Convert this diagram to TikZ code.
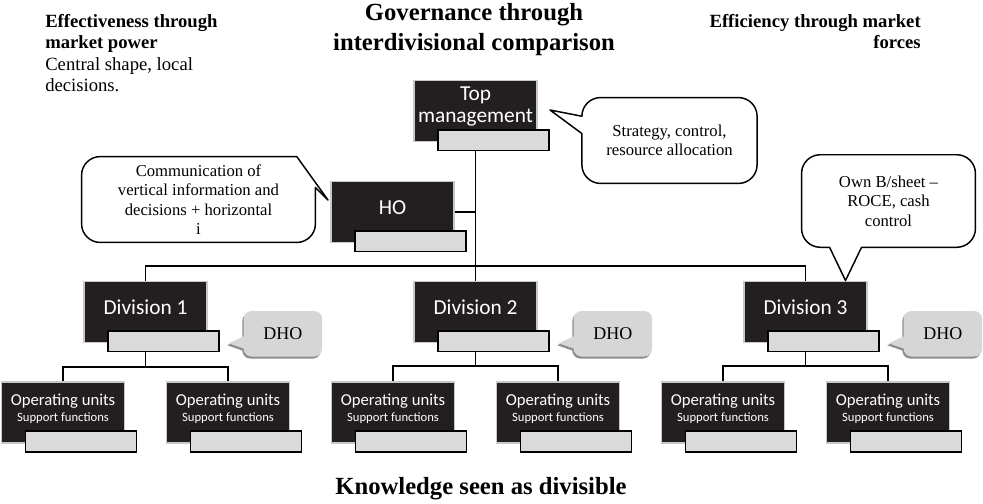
\documentclass[tikz,border=0pt]{standalone}
\usepackage{fontspec}
\setmainfont{Liberation Serif}
\newfontfamily\boxfont{Carlito}
\usetikzlibrary{positioning,calc,shadows,backgrounds}
\definecolor{boxblack}{RGB}{35,31,32}
\definecolor{boxgray}{RGB}{218,218,218}
\definecolor{dhogray}{RGB}{214,214,214}
\definecolor{rimgray}{RGB}{200,200,200}

\begin{document}
\begin{tikzpicture}[x=0.75pt, y=-0.75pt,
    blackbox/.style={draw=rimgray, line width=1.2pt, fill=boxblack,
                     minimum width=92pt, minimum height=46pt, inner sep=0},
    boxlabel/.style={text=white, align=center, yshift=3.5pt,
                     font=\boxfont\fontsize{16}{17}\selectfont},
    unitlabel/.style={text=white, align=center, yshift=2.5pt,
                      font=\boxfont\fontsize{12.5}{12}\selectfont},
    graybox/.style={draw=black, line width=1.2pt, fill=boxgray, anchor=north west,
                    minimum width=83pt, minimum height=15.5pt, inner sep=0},
    link/.style={line width=1.1pt},
    bubble/.style={align=center, inner sep=0, font=\fontsize{12.5}{14.5}\selectfont},
    bubbleline/.style={line width=1.1pt, line join=round},
    dho/.style={minimum width=58.5pt, minimum height=33.75pt, inner sep=0,
                font=\fontsize{13.5}{16}\selectfont},
    dhofill/.style={fill=dhogray, drop shadow={shadow xshift=-1pt, shadow yshift=-1.5pt,
                    fill=black!45, opacity=1}},
    heading/.style={inner sep=0, font=\fontsize{14}{16}\selectfont}]

    \useasboundingbox (0,0) rectangle (983,504);

    % headings
    \node[heading, anchor=north, align=center, font=\bfseries\fontsize{18.5}{22.5}\selectfont]
        (gov) at (474,3) {Governance through\\interdivisional comparison};
    \node[heading, anchor=north west, align=left] (eff) at (45,14)
        {\textbf{Effectiveness through}\\\textbf{market power}\\Central shape, local\\decisions.};
    \node[heading, anchor=north east, align=right] (effi) at (921,14)
        {\textbf{Efficiency through market}\\\textbf{forces}};
    \node[heading, font=\bfseries\fontsize{18.5}{22}\selectfont] (know) at (481,489)
        {Knowledge seen as divisible};

    % top management and head office
    \node[blackbox, label={[boxlabel]center:{Top\\management}}] (tm) at (475.5,111) {};
    \node[graybox] (tmg) at ([shift={(24,-13.5)}]tm.south west) {};
    \node[blackbox, label={[boxlabel]center:HO}] (ho) at (392.5,212) {};
    \node[graybox] (hog) at ([shift={(24,-13.5)}]ho.south west) {};

    % divisions
    \node[blackbox, label={[boxlabel]center:Division 1}] (d1) at (145.5,312) {};
    \node[graybox] (d1g) at ([shift={(24,-13.5)}]d1.south west) {};
    \node[blackbox, label={[boxlabel]center:Division 2}] (d2) at (475.5,312) {};
    \node[graybox] (d2g) at ([shift={(24,-13.5)}]d2.south west) {};
    \node[blackbox, label={[boxlabel]center:Division 3}] (d3) at (805.5,312) {};
    \node[graybox] (d3g) at ([shift={(24,-13.5)}]d3.south west) {};

    % operating units
    \node[blackbox, label={[unitlabel]center:{Operating units\\\fontsize{9.5}{11}\selectfont Support functions}}] (u11) at (63,412.5) {};
    \node[graybox] (u11g) at ([shift={(24,-13.5)}]u11.south west) {};
    \node[blackbox, label={[unitlabel]center:{Operating units\\\fontsize{9.5}{11}\selectfont Support functions}}] (u12) at (228,412.5) {};
    \node[graybox] (u12g) at ([shift={(24,-13.5)}]u12.south west) {};
    \node[blackbox, label={[unitlabel]center:{Operating units\\\fontsize{9.5}{11}\selectfont Support functions}}] (u21) at (393,412.5) {};
    \node[graybox] (u21g) at ([shift={(24,-13.5)}]u21.south west) {};
    \node[blackbox, label={[unitlabel]center:{Operating units\\\fontsize{9.5}{11}\selectfont Support functions}}] (u22) at (558,412.5) {};
    \node[graybox] (u22g) at ([shift={(24,-13.5)}]u22.south west) {};
    \node[blackbox, label={[unitlabel]center:{Operating units\\\fontsize{9.5}{11}\selectfont Support functions}}] (u31) at (723,412.5) {};
    \node[graybox] (u31g) at ([shift={(24,-13.5)}]u31.south west) {};
    \node[blackbox, label={[unitlabel]center:{Operating units\\\fontsize{9.5}{11}\selectfont Support functions}}] (u32) at (888,412.5) {};
    \node[graybox] (u32g) at ([shift={(24,-13.5)}]u32.south west) {};

    % connectors
    \coordinate (bus) at (475.5,266);
    \coordinate (j1) at (145.5,367);
    \coordinate (j2) at (475.5,366);
    \coordinate (j3) at (805.5,366);
    \draw[link] (tm.south |- tmg.south) -- (d2.north);
    \draw[link] (ho.east) -- (ho.east -| tm.south);
    \draw[link] (d1.north) |- (bus) -| (d3.north);
    \draw[link] (d1.south |- d1g.south) -- (j1);
    \draw[link] (u11.north) |- (j1) -| (u12.north);
    \draw[link] (d2.south |- d2g.south) -- (j2);
    \draw[link] (u21.north) |- (j2) -| (u22.north);
    \draw[link] (d3.south |- d3g.south) -- (j3);
    \draw[link] (u31.north) |- (j3) -| (u32.north);

    % speech bubbles
    \node[bubble, minimum width=131pt, minimum height=64pt] (strat) at (669.5,140.5)
        {Strategy, control,\\resource allocation};
    \coordinate (strattip) at (550,110);
    \draw[bubbleline] (strattip) -- ([yshift=-27pt]strat.north west)
        -- ([yshift=14pt]strat.south west) arc[start angle=180, end angle=270, radius=14pt]
        -- ([xshift=-14pt]strat.south east) arc[start angle=270, end angle=360, radius=14pt]
        -- ([yshift=-14pt]strat.north east) arc[start angle=0, end angle=90, radius=14pt]
        -- ([xshift=14pt]strat.north west) arc[start angle=90, end angle=180, radius=14pt]
        -- cycle;

    \node[bubble, minimum width=175pt, minimum height=64pt] (comm) at (198.5,199.5)
        {Communication of\\vertical information and\\decisions + horizontal\\i};
    \coordinate (commtip) at (328,200);
    \draw[bubbleline] (commtip) -- ([yshift=9pt]comm.east)
        -- ([yshift=14pt]comm.south east) arc[start angle=0, end angle=-90, radius=14pt]
        -- ([xshift=14pt]comm.south west) arc[start angle=270, end angle=180, radius=14pt]
        -- ([yshift=-14pt]comm.north west) arc[start angle=180, end angle=90, radius=14pt]
        -- ([xshift=-14pt]comm.north east) -- cycle;

    \node[bubble, minimum width=130pt, minimum height=69pt] (bsheet) at (888.5,201)
        {Own B/sheet --\\ROCE, cash\\control};
    \coordinate (bsheettip) at ([xshift=30pt]d3.north);
    \draw[bubbleline] (bsheettip) -- ([xshift=45pt]bsheet.south west)
        -- ([xshift=-14pt]bsheet.south east) arc[start angle=-90, end angle=0, radius=14pt]
        -- ([yshift=-14pt]bsheet.north east) arc[start angle=0, end angle=90, radius=14pt]
        -- ([xshift=14pt]bsheet.north west) arc[start angle=90, end angle=180, radius=14pt]
        -- ([yshift=14pt]bsheet.south west) arc[start angle=180, end angle=270, radius=14pt]
        -- ([xshift=21pt]bsheet.south west) -- cycle;

    % divisional head offices
    \node[dho, right=18pt of d1g, yshift=5.5pt] (dho1) {DHO};
    \node[dho, right=18pt of d2g, yshift=5.5pt] (dho2) {DHO};
    \node[dho, right=18pt of d3g, yshift=5.5pt] (dho3) {DHO};
    \begin{scope}[on background layer]
    \fill[dhofill] ([shift={(-15,9.5)}]dho1.west) -- ([yshift=-2pt]dho1.west)
        -- ([yshift=-6pt]dho1.north west) arc[start angle=180, end angle=90, radius=6pt]
        -- ([xshift=-6pt]dho1.north east) arc[start angle=90, end angle=0, radius=6pt]
        -- ([yshift=6pt]dho1.south east) arc[start angle=0, end angle=-90, radius=6pt]
        -- ([xshift=6pt]dho1.south west) arc[start angle=270, end angle=180, radius=6pt]
        -- cycle;
    \fill[dhofill] ([shift={(-15,9.5)}]dho2.west) -- ([yshift=-2pt]dho2.west)
        -- ([yshift=-6pt]dho2.north west) arc[start angle=180, end angle=90, radius=6pt]
        -- ([xshift=-6pt]dho2.north east) arc[start angle=90, end angle=0, radius=6pt]
        -- ([yshift=6pt]dho2.south east) arc[start angle=0, end angle=-90, radius=6pt]
        -- ([xshift=6pt]dho2.south west) arc[start angle=270, end angle=180, radius=6pt]
        -- cycle;
    \fill[dhofill] ([shift={(-15,9.5)}]dho3.west) -- ([yshift=-2pt]dho3.west)
        -- ([yshift=-6pt]dho3.north west) arc[start angle=180, end angle=90, radius=6pt]
        -- ([xshift=-6pt]dho3.north east) arc[start angle=90, end angle=0, radius=6pt]
        -- ([yshift=6pt]dho3.south east) arc[start angle=0, end angle=-90, radius=6pt]
        -- ([xshift=6pt]dho3.south west) arc[start angle=270, end angle=180, radius=6pt]
        -- cycle;
    \end{scope}
\end{tikzpicture}
\end{document}
